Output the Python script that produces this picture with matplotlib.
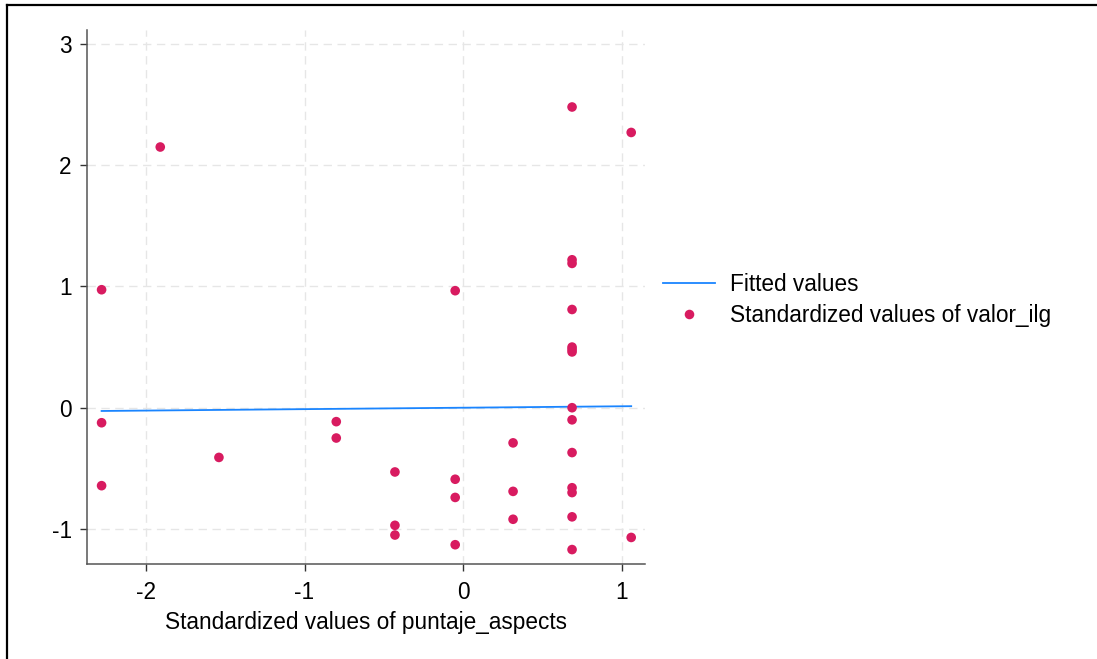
import matplotlib
matplotlib.use("Agg")
import matplotlib.pyplot as plt
from matplotlib.lines import Line2D

plt.rcParams['font.family'] = ['Liberation Sans', 'DejaVu Sans']

# Data
x_vals = [-2.28, -2.28, -2.28, -1.91, -1.54, -0.80, -0.80,
          -0.43, -0.43, -0.43, -0.05, -0.05, -0.05, -0.05,
          0.315, 0.315, 0.315,
          0.687, 0.687, 0.687, 0.687, 0.687, 0.687, 0.687, 0.687,
          0.687, 0.687, 0.687, 0.687, 0.687, 0.687,
          1.06, 1.06]
y_vals = [0.973, -0.124, -0.643, 2.15, -0.41, -0.115, -0.25,
          -0.53, -0.97, -1.05, 0.965, -0.59, -0.74, -1.13,
          -0.29, -0.69, -0.92,
          2.48, 1.22, 1.19, 0.81, 0.50, 0.48, 0.46, 0.0,
          -0.10, -0.37, -0.66, -0.70, -0.90, -1.17,
          2.27, -1.07]
fit_x = [-2.28, 1.06]
fit_y = [-0.027, 0.0125]

xticks = [-2, -1, 0, 1]
yticks = [-1, 0, 1, 2, 3]

fit_color = '#1a85ff'
pt_color = '#d81b60'
FS = 16.3

fig = plt.figure(figsize=(10.97, 6.59), dpi=100)
ax = fig.add_axes([87/1097, 1 - 564/659, (645-87)/1097, (564-30)/659])

ax.plot(fit_x, fit_y, color=fit_color, lw=1.3, zorder=3, label='Fitted values')
ax.scatter(x_vals, y_vals, s=48, color=pt_color, edgecolors='none', zorder=4,
           label='Standardized values of valor_ilg')

ax.set_xlim(-2.372, 1.147)
ax.set_ylim(-1.289, 3.115)
ax.set_xticks(xticks)
ax.set_xticklabels([str(t) for t in xticks])
ax.set_yticks(yticks)
ax.set_yticklabels([str(t) for t in yticks])

ax.grid(True, color='#e6e6e6', linestyle=(0, (6, 4)), lw=1.0, zorder=0)
for s in ['top', 'right']:
    ax.spines[s].set_visible(False)
for s in ['left', 'bottom']:
    ax.spines[s].set_color('#555555')
    ax.spines[s].set_linewidth(1.1)
ax.tick_params(axis='both', direction='out', length=5, width=1.0, color='#333333',
               labelsize=FS, labelcolor='black')
ax.tick_params(axis='x', pad=7)
ax.tick_params(axis='y', pad=6)
ax.set_xlabel('Standardized values of puntaje_aspects', fontsize=FS, labelpad=5)

handles = [Line2D([], [], color=fit_color, lw=1.3),
           Line2D([], [], marker='o', color=pt_color, linestyle='none', markersize=6.9,
                  markeredgewidth=0)]
fig.legend(handles, ['Fitted values', 'Standardized values of valor_ilg'],
           loc='center left', bbox_to_anchor=(663/1097, 1 - 300/659), frameon=False,
           fontsize=FS, handlelength=2.3, handletextpad=0.66, labelspacing=0.38,
           borderaxespad=0, borderpad=0)

# outer frame lines (cropped screenshot)
fig.add_artist(Line2D([7/1097, 1.0], [1 - 4.5/659, 1 - 4.5/659], color='black', lw=1.6,
                      transform=fig.transFigure))
fig.add_artist(Line2D([7/1097, 7/1097], [0.0, 1 - 4.5/659], color='black', lw=1.6,
                      transform=fig.transFigure))

fig.savefig('out.png', dpi=100)
